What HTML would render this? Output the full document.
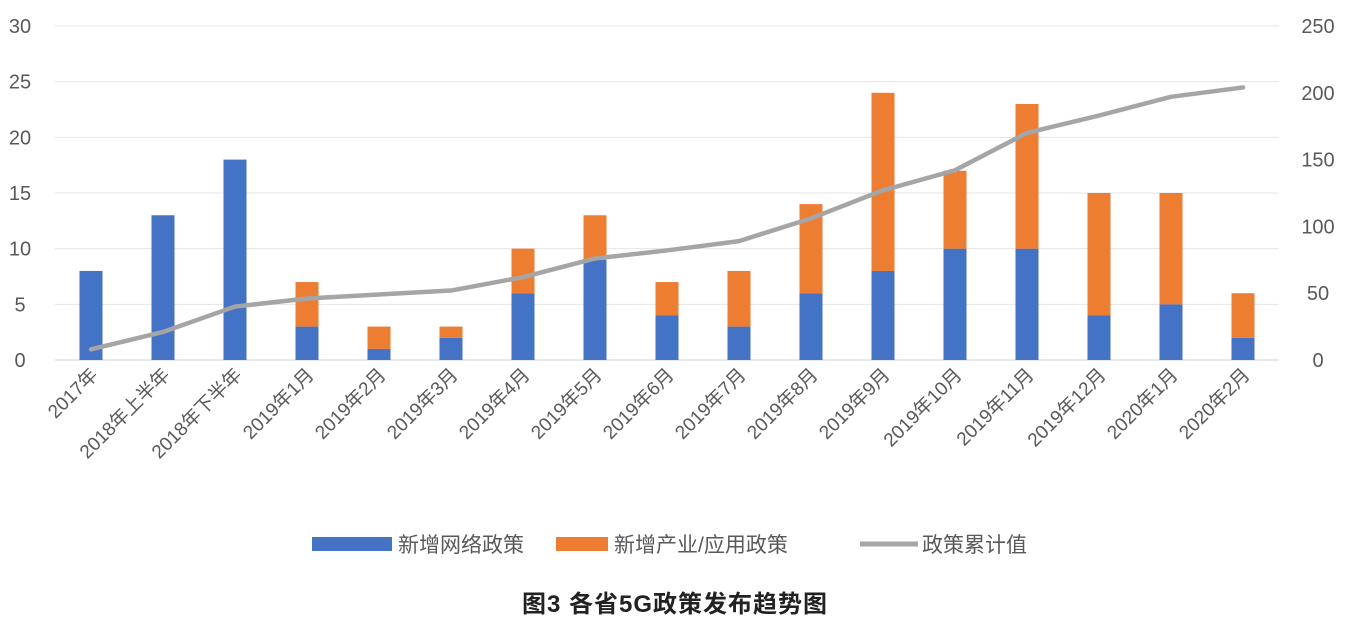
<!DOCTYPE html>
<html><head><meta charset="utf-8">
<style>
html,body{margin:0;padding:0;background:#fff;}
svg{display:block;font-family:"Liberation Sans","Noto Sans CJK SC",sans-serif;}
</style></head>
<body>
<svg id="chart" width="1354" height="626" viewBox="0 0 1354 626" xmlns="http://www.w3.org/2000/svg">
<g id="grid"></g>
<g id="yl"></g>
<g id="yr"></g>
<g id="bars"></g>
<g id="line"></g>
<g id="xl"></g>
<g>
  <rect x="312" y="537" width="80" height="14" fill="#4472C4"/>
  <text x="398" y="552" font-size="21" fill="#595959">新增网络政策</text>
  <rect x="556" y="537" width="52" height="14" fill="#ED7D31"/>
  <text x="614" y="552" font-size="21" fill="#595959">新增产业/应用政策</text>
  <line x1="860" y1="544" x2="918" y2="544" stroke="#A5A5A5" stroke-width="5"/>
  <text x="922" y="552" font-size="21" fill="#595959">政策累计值</text>
</g>
<text x="675" y="612" font-size="24" font-weight="bold" fill="#222" text-anchor="middle" letter-spacing="1">图3  各省5G政策发布趋势图</text>
</svg>
<script>
const categories=["2017年","2018年上半年","2018年下半年","2019年1月","2019年2月","2019年3月","2019年4月","2019年5月","2019年6月","2019年7月","2019年8月","2019年9月","2019年10月","2019年11月","2019年12月","2020年1月","2020年2月"];
const networkValues=[8,13,18,3,1,2,6,9,4,3,6,8,10,10,4,5,2];
const industryValues=[0,0,0,4,2,1,4,4,3,5,8,16,7,13,11,10,4];
const cumulativeValues=[8,21,40,46,49,52,62,76,82,89,106,127,142,170,183,197,204];
const leftTicks=[0,5,10,15,20,25,30];
const rightTicks=[0,50,100,150,200,250];

const NS="http://www.w3.org/2000/svg";
const X0=55,BAND=72,Y0=360,YT=26;
const xc=i=>X0+BAND*(i+0.5);
const yL=v=>Y0-(v/30)*(Y0-YT);
const yR=v=>Y0-(v/250)*(Y0-YT);
function mk(tag,attrs,parent){const e=document.createElementNS(NS,tag);for(const k in attrs)e.setAttribute(k,attrs[k]);parent.appendChild(e);return e;}
const grid=document.getElementById('grid'),yl=document.getElementById('yl'),yr=document.getElementById('yr'),bars=document.getElementById('bars'),lineG=document.getElementById('line'),xl=document.getElementById('xl');
leftTicks.forEach(t=>{
  const g=mk('line',{x1:X0,x2:X0+BAND*17,y1:yL(t),y2:yL(t),stroke:t===0?'#D0D0D0':'#E4E4E4','stroke-width':1},grid);
  
  
  const tx=mk('text',{x:20,y:yL(t)+7,'font-size':20,fill:'#595959','text-anchor':'middle'},yl);
  tx.textContent=t;
  
  
});
rightTicks.forEach(t=>{
  const tx=mk('text',{x:1318,y:yR(t)+7,'font-size':20,fill:'#595959','text-anchor':'middle'},yr);
  tx.textContent=t;
  
  
});
categories.forEach((c,i)=>{
  const w=23,x=xc(i)-w/2;
  const b=mk('rect',{x:x,y:yL(networkValues[i]),width:w,height:Y0-yL(networkValues[i]),fill:'#4472C4'},bars);
  
  
  if(industryValues[i]>0){
    const top=networkValues[i]+industryValues[i];
    const o=mk('rect',{x:x,y:yL(top),width:w,height:yL(networkValues[i])-yL(top),fill:'#ED7D31'},bars);
    
    
  }
  const tx=mk('text',{'font-size':19,fill:'#595959','text-anchor':'end',transform:`translate(${xc(i)+8},${Y0+16}) rotate(-45)`},xl);
  tx.textContent=c;
  
  
});
const pts=cumulativeValues.map((v,i)=>xc(i)+','+yR(v)).join(' ');
const pl=mk('polyline',{points:pts,fill:'none',stroke:'#A5A5A5','stroke-width':4.5,'stroke-linejoin':'round','stroke-linecap':'round'},lineG);


</script>
</body></html>
